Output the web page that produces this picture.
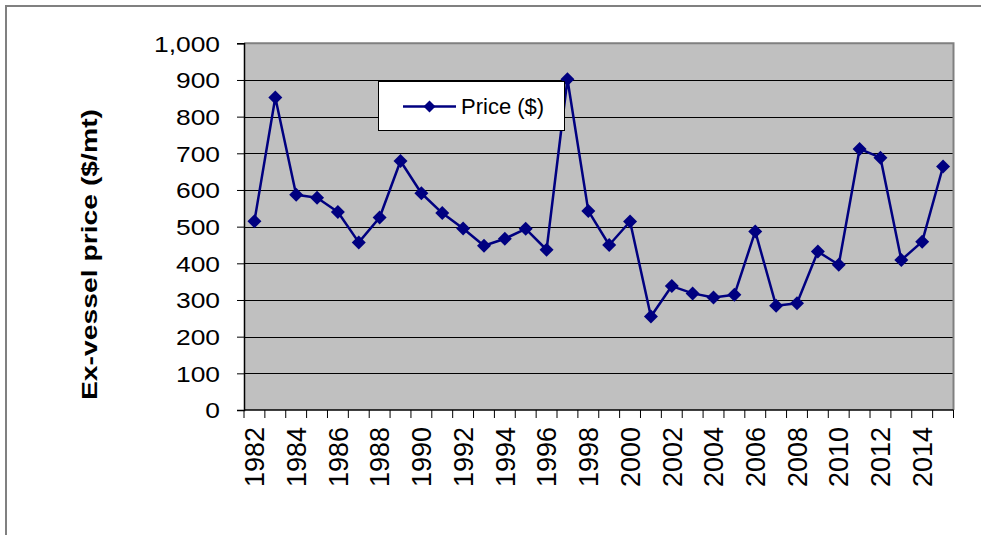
<!DOCTYPE html>
<html>
<head>
<meta charset="utf-8">
<script src="https://d3js.org/d3.v7.min.js"></script>
<style>
  body {
    margin: 0;
    background: white;
    overflow: hidden;
  }
  svg {
    display: block;
    font-family: 'Liberation Sans', Arial, sans-serif;
  }
</style>
</head>
<body>
<div id="holder"></div>
<script>
  // Data
  const years = [
    1982, 1983, 1984, 1985, 1986, 1987, 1988, 1989, 1990, 1991, 1992, 1993,
    1994, 1995, 1996, 1997, 1998, 1999, 2000, 2001, 2002, 2003, 2004, 2005,
    2006, 2007, 2008, 2009, 2010, 2011, 2012, 2013, 2014, 2015
  ];
  const prices = [
    515, 852, 587, 579, 540, 457, 525, 679, 591, 537, 495, 448,
    467, 494, 437, 902, 543, 450, 514, 255, 338, 318, 307, 314,
    487, 284, 291, 432, 396, 712, 688, 409, 459, 664
  ];
  const yTicks = [0, 100, 200, 300, 400, 500, 600, 700, 800, 900, 1000];
  const yearLabels = years.filter((d) => d % 2 === 0);
  const seriesName = 'Price ($)';
  const yTitle = 'Ex-vessel price ($/mt)';

  // Variables
  const w = 981;
  const h = 535;
  const plot = { left: 244, right: 953.5, top: 43.3, bottom: 410 };
  const navy = '#000080';

  const dat = years.map((y, i) => ({ year: y, price: prices[i] }));

  const xScale = d3
    .scaleBand()
    .domain(years)
    .range([plot.left, plot.right])
    .padding(0);

  const yScale = d3
    .scaleLinear()
    .domain([0, 1000])
    .range([plot.bottom, plot.top]);

  const svg = d3
    .select('#holder')
    .append('svg')
    .attr('width', w)
    .attr('height', h);

  // outer chart frame (runs off the page on right/bottom)
  svg
    .append('rect')
    .attr('x', 6)
    .attr('y', 6)
    .attr('width', 1200)
    .attr('height', 800)
    .attr('fill', 'white')
    .attr('stroke', '#808080')
    .attr('stroke-width', 2);

  // plot area
  svg
    .append('rect')
    .attr('x', plot.left)
    .attr('y', plot.top)
    .attr('width', plot.right - plot.left)
    .attr('height', plot.bottom - plot.top)
    .attr('fill', '#c0c0c0');

  // gridlines
  svg
    .append('g')
    .selectAll('line')
    .data(yTicks.filter((d) => d > 0 && d < 1000))
    .enter()
    .append('line')
    .attr('x1', plot.left)
    .attr('x2', plot.right)
    .attr('y1', (d) => Math.round(yScale(d)) + 0.5)
    .attr('y2', (d) => Math.round(yScale(d)) + 0.5)
    .attr('stroke', '#000')
    .attr('stroke-width', 1);

  // top + right border of the plot area
  svg
    .append('path')
    .attr(
      'd',
      'M' + plot.left + ',' + plot.top + 'H' + plot.right + 'V' + plot.bottom
    )
    .attr('fill', 'none')
    .attr('stroke', '#808080')
    .attr('stroke-width', 2);

  // Y axis
  const yAxis = d3
    .axisLeft(yScale)
    .tickValues(yTicks)
    .tickSize(7)
    .tickFormat(d3.format(','));
  const gy = svg
    .append('g')
    .attr('transform', 'translate(' + plot.left + ',0)')
    .call(yAxis);
  gy.select('.domain').attr('stroke', '#000').attr('stroke-width', 1.5);
  gy.selectAll('.tick line').attr('stroke', '#000');
  gy.selectAll('.tick text')
    .attr('x', null)
    .attr('dy', '0.36em')
    .attr('fill', '#000')
    .style('font-size', '22px')
    .attr('transform', 'translate(-24,0) scale(1.2,1)');

  // X axis: ticks at category boundaries, labels every other year
  const bw = xScale.bandwidth();
  const xTickPos = years.map((d) => xScale(d)).concat([plot.right]);
  const gx = svg.append('g');
  gx.append('line')
    .attr('x1', plot.left)
    .attr('x2', plot.right)
    .attr('y1', plot.bottom)
    .attr('y2', plot.bottom)
    .attr('stroke', '#000')
    .attr('stroke-width', 1.5);
  gx.selectAll('.xtick')
    .data(xTickPos)
    .enter()
    .append('line')
    .attr('class', 'xtick')
    .attr('x1', (d) => d)
    .attr('x2', (d) => d)
    .attr('y1', plot.bottom)
    .attr('y2', plot.bottom + 8)
    .attr('stroke', '#000');
  gx.selectAll('.xlabel')
    .data(yearLabels)
    .enter()
    .append('text')
    .attr('class', 'xlabel')
    .attr(
      'transform',
      (d) =>
        'translate(' + (xScale(d) + bw / 2) + ',' + (plot.bottom + 17) + ') rotate(-90)'
    )
    .attr('text-anchor', 'end')
    .attr('dy', '0.36em')
    .style('font-size', '27px')
    .attr('fill', '#000')
    .text((d) => d);

  // Y title
  svg
    .append('text')
    .attr('transform', 'translate(89,254.5) rotate(-90)')
    .attr('text-anchor', 'middle')
    .attr('dy', '0.36em')
    .style('font-size', '22px')
    .style('font-weight', 'bold')
    .attr('textLength', 291)
    .attr('lengthAdjust', 'spacingAndGlyphs')
    .text(yTitle);

  // Line + markers
  const line = d3
    .line()
    .x((d) => xScale(d.year) + bw / 2)
    .y((d) => yScale(d.price));

  svg
    .append('path')
    .datum(dat)
    .attr('d', line)
    .attr('fill', 'none')
    .attr('stroke', navy)
    .attr('stroke-width', 2.5)
    .attr('stroke-linejoin', 'round');

  const diamond = 'M0,-7L7,0L0,7L-7,0Z';
  svg
    .selectAll('.dot')
    .data(dat)
    .enter()
    .append('path')
    .attr('class', 'dot')
    .attr('d', diamond)
    .attr(
      'transform',
      (d) => 'translate(' + (xScale(d.year) + bw / 2) + ',' + yScale(d.price) + ')'
    )
    .attr('fill', navy);

  // Legend
  const legend = svg.append('g').attr('transform', 'translate(378,81)');
  legend
    .append('rect')
    .attr('x', 0.5)
    .attr('y', 0.5)
    .attr('width', 186)
    .attr('height', 49)
    .attr('fill', 'white')
    .attr('stroke', '#000');
  legend
    .append('line')
    .attr('x1', 25)
    .attr('x2', 78)
    .attr('y1', 25.5)
    .attr('y2', 25.5)
    .attr('stroke', navy)
    .attr('stroke-width', 2.5);
  legend
    .append('path')
    .attr('d', 'M0,-6L6,0L0,6L-6,0Z')
    .attr('transform', 'translate(51.5,25.5)')
    .attr('fill', navy);
  legend
    .append('text')
    .attr('x', 83)
    .attr('y', 33)
    .style('font-size', '22px')
    .attr('fill', '#000')
    .text(seriesName);
</script>
</body>
</html>
